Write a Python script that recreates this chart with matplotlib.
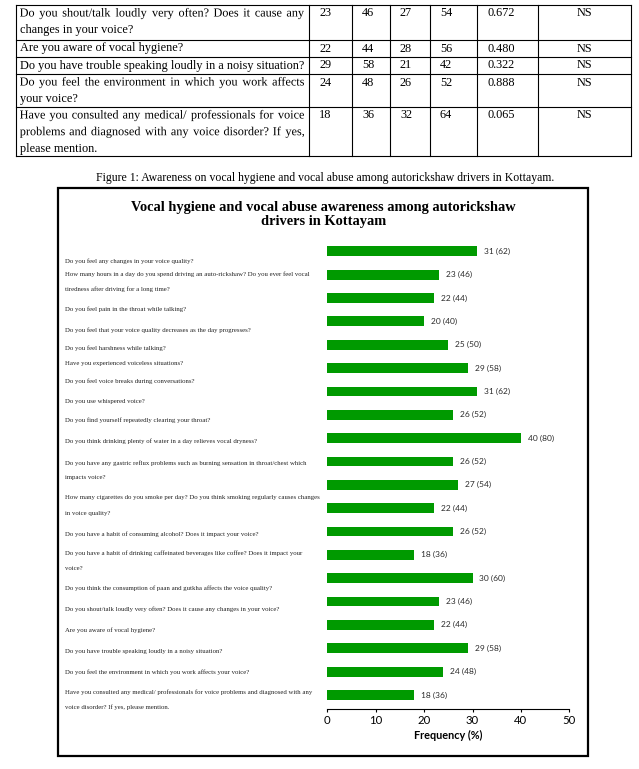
import matplotlib
matplotlib.use("Agg")
import matplotlib.pyplot as plt
from matplotlib.lines import Line2D
from matplotlib.patches import Rectangle, PathPatch
from matplotlib.textpath import TextPath
from matplotlib.font_manager import FontProperties
from matplotlib.transforms import Affine2D

W, H = 639, 769

# table rows (end of the table from the previous page)
table_questions = [
    ["Do you shout/talk loudly very often? Does it cause any", "changes in your voice?"],
    ["Are you aware of vocal hygiene?"],
    ["Do you have trouble speaking loudly in a noisy situation?"],
    ["Do you feel the environment in which you work affects", "your voice?"],
    ["Have you consulted any medical/ professionals for voice",
     "problems and diagnosed with any voice disorder? If yes,",
     "please mention."],
]
yes_n = [23, 22, 29, 24, 18]
yes_pct = [46, 44, 58, 48, 36]
no_n = [27, 28, 21, 26, 32]
no_pct = [54, 56, 42, 52, 64]
p_values = ["0.672", "0.480", "0.322", "0.888", "0.065"]
significance = ["NS", "NS", "NS", "NS", "NS"]

caption = "Figure 1: Awareness on vocal hygiene and vocal abuse among autorickshaw drivers in Kottayam."
chart_title = "Vocal hygiene and vocal abuse awareness among autorickshaw\ndrivers in Kottayam"

questions = [
    "Do you feel any changes in your voice quality?",
    "How many hours in a day do you spend driving an auto-rickshaw? Do you ever feel vocal\ntiredness after driving for a long time?",
    "Do you feel pain in the throat while talking?",
    "Do you feel that your voice quality decreases as the day progresses?",
    "Do you feel harshness while talking?",
    "Have you experienced voiceless situations?",
    "Do you feel voice breaks during conversations?",
    "Do you use whispered voice?",
    "Do you find yourself repeatedly clearing your throat?",
    "Do you think drinking plenty of water in a day relieves vocal dryness?",
    "Do you have any gastric reflux problems such as burning sensation in throat/chest which\nimpacts voice?",
    "How many cigarettes do you smoke per day? Do you think smoking regularly causes changes\nin voice quality?",
    "Do you have a habit of consuming alcohol? Does it impact your voice?",
    "Do you have a habit of drinking caffeinated beverages like coffee? Does it impact your\nvoice?",
    "Do you think the consumption of paan and gutkha affects the voice quality?",
    "Do you shout/talk loudly very often? Does it cause any changes in your voice?",
    "Are you aware of vocal hygiene?",
    "Do you have trouble speaking loudly in a noisy situation?",
    "Do you feel the environment in which you work affects your voice?",
    "Have you consulted any medical/ professionals for voice problems and diagnosed with any\nvoice disorder? If yes, please mention.",
]
frequency = [31, 23, 22, 20, 25, 29, 31, 26, 40, 26, 27, 22, 26, 18, 30, 23, 22, 29, 24, 18]
percent = [62, 46, 44, 40, 50, 58, 62, 52, 80, 52, 54, 44, 52, 36, 60, 46, 44, 58, 48, 36]
x_ticks = [0, 10, 20, 30, 40, 50]

# layout (pixels of the page)
col_lines = [16, 309, 352, 390, 430, 477, 538, 631]
row_lines = [5, 40, 57, 74, 107, 156]
line_step = 16.7
label_rows = [261, 274, 309, 330, 348, 364, 381, 401, 420, 441,
              463, 498, 534, 553, 588, 609, 630, 651, 672, 692]


def fx(x):
    return x / W


def fy(y):
    return 1 - y / H


fig = plt.figure(figsize=(W / 100, H / 100), dpi=100)
serif = "Liberation Serif"
table_pt = 8.8
serif_fp = FontProperties(family=serif)


def put_line(s, x0, x1, y, justify):
    # y is the baseline, in page pixels
    if not justify:
        fig.text(fx(x0), fy(y), s, ha="left", va="baseline", family=serif,
                 fontsize=table_pt, color="black")
        return
    # justified line: words as vector paths so they share one baseline
    size_px = table_pt * 100 / 72
    paths = [TextPath((0, 0), w, size=size_px, prop=serif_fp) for w in s.split(" ")]
    exts = [p.get_extents() for p in paths]
    gap = (x1 - x0 - sum(e.width for e in exts)) / (len(paths) - 1)
    x = x0
    for p, e in zip(paths, exts):
        tr = Affine2D().translate(x - e.x0, H - y).scale(1 / W, 1 / H) + fig.transFigure
        fig.add_artist(PathPatch(p, transform=tr, facecolor="black", edgecolor="none"))
        x += e.width + gap


# ---- table ----
tkw = dict(family=serif, fontsize=table_pt, color="black")
for y in row_lines:
    fig.add_artist(Line2D([fx(col_lines[0]), fx(col_lines[-1])], [fy(y), fy(y)], color="black", lw=0.8))
for x in col_lines:
    fig.add_artist(Line2D([fx(x), fx(x)], [fy(row_lines[0]), fy(row_lines[-1])], color="black", lw=0.8))

for r, lines in enumerate(table_questions):
    top = row_lines[r]
    base = top + 11.5
    for k, s in enumerate(lines):
        put_line(s, col_lines[0] + 4, col_lines[1] - 5, base + k * line_step, k < len(lines) - 1)
    cells = [str(yes_n[r]), str(yes_pct[r]), str(no_n[r]), str(no_pct[r]), p_values[r]]
    for c, s in enumerate(cells):
        fig.text(fx(col_lines[c + 1] + 10), fy(base), s, ha="left", va="baseline", **tkw)
    fig.text(fx((col_lines[6] + col_lines[7]) / 2), fy(base), significance[r],
             ha="center", va="baseline", **tkw)

fig.text(fx(325), fy(178), caption, ha="center", va="center", family=serif, fontsize=8.45)

# ---- chart box ----
fig.add_artist(Rectangle((fx(58), fy(756)), (588 - 58) / W, (756 - 188) / H,
                         fill=False, edgecolor="black", lw=1.6))
fig.text(fx(323.5), fy(214.5), chart_title, ha="center", va="center", family=serif,
         fontsize=10.4, fontweight="bold", linespacing=1.1)

ax = fig.add_axes([fx(327.3), fy(708.5), (569.3 - 327.3) / W, (708.5 - 237.8) / H])
ypos = list(range(len(frequency)))
ax.barh(ypos, frequency, height=0.42, color="#009a00")
for i, (v, p) in enumerate(zip(frequency, percent)):
    ax.annotate(f"{v} ({p})", (v, i), xytext=(5, 0), textcoords="offset points",
                va="center", ha="left", fontsize=6, family="Lato", color="#2a2a2a")
ax.set_xlim(0, 50)
ax.set_ylim(19.58, -0.58)
ax.set_xticks(x_ticks)
ax.set_xticklabels([str(t) for t in x_ticks], family="Lato", fontsize=8.2)
ax.set_yticks([])
for side in ["left", "right", "top"]:
    ax.spines[side].set_visible(False)
ax.spines["bottom"].set_linewidth(0.8)
ax.tick_params(axis="x", direction="out", length=2.5, width=0.8, pad=2.5)
ax.set_xlabel("Frequency (%)", family="Lato", fontsize=7.8, fontweight="bold", labelpad=2.5)

for q, y in zip(questions, label_rows):
    for k, s in enumerate(q.split("\n")):
        fig.text(fx(65), fy(y + k * 15), s, ha="left", va="center", family=serif,
                 fontsize=4.85, color="#222222")

fig.savefig("out.png", dpi=100)
